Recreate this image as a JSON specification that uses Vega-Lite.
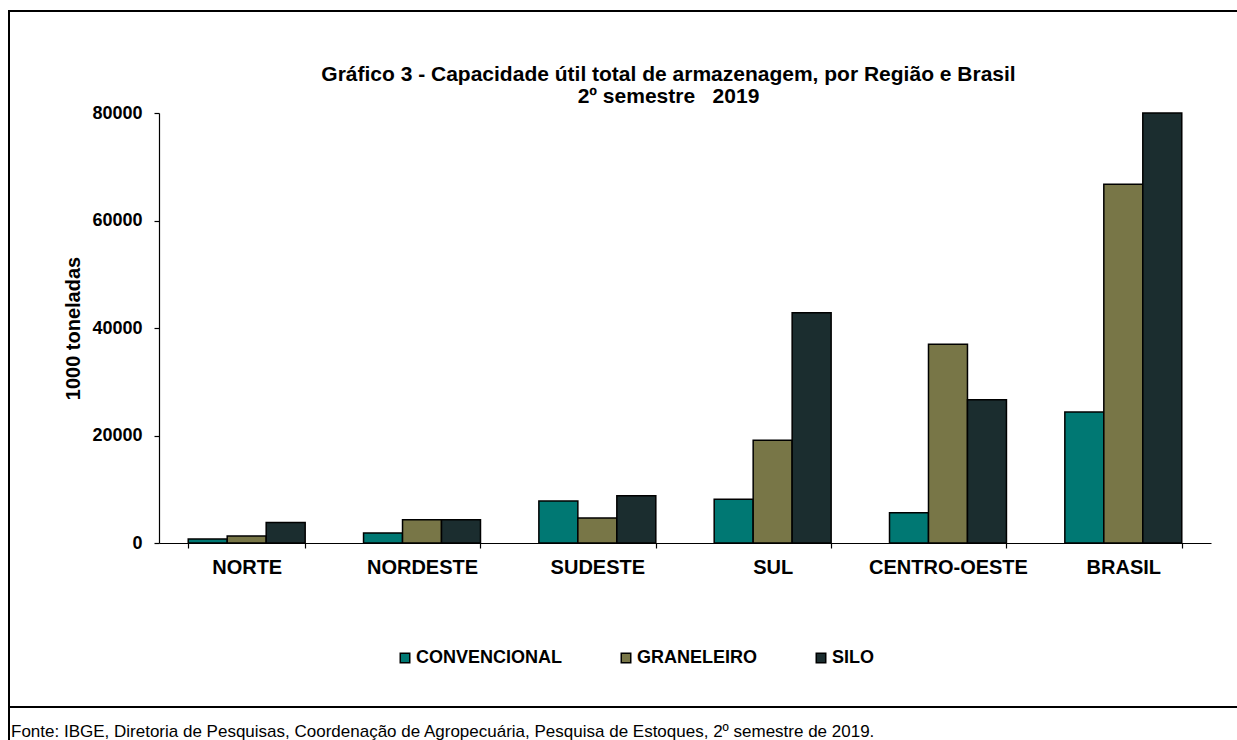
{
  "$schema": "https://vega.github.io/schema/vega-lite/v6.json",
  "padding": {"left": 8, "top": 10, "right": 0, "bottom": 0},
  "background": "white",
  "spacing": 0,
  "bounds": "flush",
  "config": {
    "view": {"stroke": "black", "strokeWidth": 2},
    "font": "Liberation Sans"
  },
  "vconcat": [
    {
      "width": 1231,
      "height": 696,
      "title": {
        "text": ["Gráfico 3 - Capacidade útil total de armazenagem, por Região e Brasil", "2º semestre\u00a0\u00a0 2019"],
        "orient": "top",
        "anchor": "middle",
        "frame": "group",
        "offset": -96,
        "dx": 44,
        "font": "Liberation Sans",
        "fontSize": 21,
        "fontWeight": "bold",
        "lineHeight": 22,
        "color": "black"
      },
      "data": {
        "values": [
          {"regiao": "NORTE", "tipo": "CONVENCIONAL", "valor": 750},
          {"regiao": "NORTE", "tipo": "GRANELEIRO", "valor": 1300},
          {"regiao": "NORTE", "tipo": "SILO", "valor": 3800},
          {"regiao": "NORDESTE", "tipo": "CONVENCIONAL", "valor": 1860},
          {"regiao": "NORDESTE", "tipo": "GRANELEIRO", "valor": 4340},
          {"regiao": "NORDESTE", "tipo": "SILO", "valor": 4340},
          {"regiao": "SUDESTE", "tipo": "CONVENCIONAL", "valor": 7810},
          {"regiao": "SUDESTE", "tipo": "GRANELEIRO", "valor": 4650},
          {"regiao": "SUDESTE", "tipo": "SILO", "valor": 8800},
          {"regiao": "SUL", "tipo": "CONVENCIONAL", "valor": 8130},
          {"regiao": "SUL", "tipo": "GRANELEIRO", "valor": 19100},
          {"regiao": "SUL", "tipo": "SILO", "valor": 42850},
          {"regiao": "CENTRO-OESTE", "tipo": "CONVENCIONAL", "valor": 5640},
          {"regiao": "CENTRO-OESTE", "tipo": "GRANELEIRO", "valor": 36970},
          {"regiao": "CENTRO-OESTE", "tipo": "SILO", "valor": 26660},
          {"regiao": "BRASIL", "tipo": "CONVENCIONAL", "valor": 24370},
          {"regiao": "BRASIL", "tipo": "GRANELEIRO", "valor": 66740},
          {"regiao": "BRASIL", "tipo": "SILO", "valor": 86400}
        ]
      },
      "mark": {"type": "bar", "stroke": "black", "strokeWidth": 1.5},
      "encoding": {
        "x": {
          "field": "regiao",
          "type": "nominal",
          "sort": ["NORTE", "NORDESTE", "SUDESTE", "SUL", "CENTRO-OESTE", "BRASIL"],
          "scale": {"range": [150, 1202], "paddingInner": 0.333, "paddingOuter": 0.1667},
          "axis": {
            "title": null,
            "orient": "bottom",
            "offset": -164,
            "tickBand": "extent",
            "domainColor": "black",
            "domainWidth": 1.2,
            "tickColor": "black",
            "tickWidth": 1.2,
            "tickSize": 5,
            "labelAngle": 0,
            "labelFont": "Liberation Sans",
            "labelFontWeight": "bold",
            "labelFontSize": 20,
            "labelColor": "black",
            "labelPadding": 9
          }
        },
        "xOffset": {
          "field": "tipo",
          "type": "nominal",
          "sort": ["CONVENCIONAL", "GRANELEIRO", "SILO"],
          "scale": {"paddingInner": 0, "paddingOuter": 0}
        },
        "y": {
          "field": "valor",
          "type": "quantitative",
          "scale": {"domain": [0, 80000], "range": [532, 102], "clamp": true, "nice": false},
          "axis": {
            "title": "1000 toneladas",
            "offset": -150,
            "values": [0, 20000, 40000, 60000, 80000],
            "format": "d",
            "grid": false,
            "domainColor": "black",
            "domainWidth": 1.2,
            "tickColor": "black",
            "tickWidth": 1.2,
            "tickSize": 5,
            "labelFont": "Liberation Sans",
            "labelFontWeight": "bold",
            "labelFontSize": 18,
            "labelColor": "black",
            "labelPadding": 12,
            "titleFont": "Liberation Sans",
            "titleFontWeight": "bold",
            "titleFontSize": 20,
            "titleColor": "black",
            "titlePadding": 8
          }
        },
        "color": {
          "field": "tipo",
          "type": "nominal",
          "sort": ["CONVENCIONAL", "GRANELEIRO", "SILO"],
          "scale": {"domain": ["CONVENCIONAL", "GRANELEIRO", "SILO"], "range": ["#007873", "#787647", "#1B2D2F"]},
          "legend": {
            "title": null,
            "orient": "none",
            "legendX": 387,
            "legendY": 638,
            "direction": "horizontal",
            "symbolType": "square",
            "symbolSize": 90,
            "symbolStrokeColor": "black",
            "symbolStrokeWidth": 1.5,
            "symbolOpacity": 1,
            "labelFont": "Liberation Sans",
            "labelFontWeight": "bold",
            "labelFontSize": 18,
            "labelColor": "black",
            "labelOffset": 2,
            "columnPadding": 54
          }
        }
      }
    },
    {
      "width": 1231,
      "height": 45,
      "data": {"values": [{"nota": "Fonte: IBGE, Diretoria de Pesquisas, Coordenação de Agropecuária, Pesquisa de Estoques, 2º semestre de 2019."}]},
      "mark": {"type": "text", "align": "left", "baseline": "middle", "font": "Liberation Sans", "fontSize": 17, "color": "black", "dx": 2},
      "encoding": {
        "text": {"field": "nota"},
        "x": {"datum": 0, "type": "quantitative", "scale": {"domain": [0, 1]}, "axis": null},
        "y": {"datum": 0.45, "type": "quantitative", "scale": {"domain": [0, 1]}, "axis": null}
      }
    }
  ]
}
